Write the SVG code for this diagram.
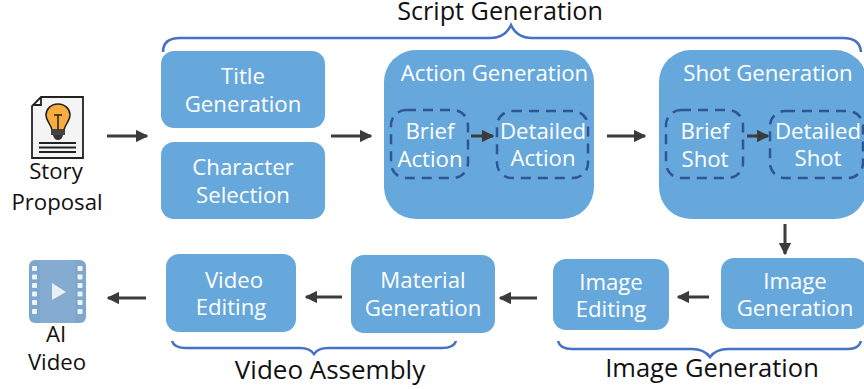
<svg xmlns="http://www.w3.org/2000/svg" width="864" height="389" viewBox="0 0 864 389">
<style>
text{font-family:"Open Sans","Noto Sans","DejaVu Sans",sans-serif;font-size:22.200px;text-anchor:middle}
.w{fill:#fff}
.k{fill:#111}
.box{fill:#66a8db}
.dash{fill:none;stroke:#2f5597;stroke-width:2.500;stroke-dasharray:10 7}
.brace{fill:none;stroke:#4472c4;stroke-width:2.600}
.arr{fill:none;stroke:#3b3b3b;stroke-width:3;marker-end:url(#a)}
.ink{fill:none;stroke:#222;stroke-width:1.800}
</style>
<defs>
<marker id="a" viewBox="0 0 10 10" refX="9" refY="5" markerWidth="4.200" markerHeight="4.200" markerUnits="strokeWidth" orient="auto"><path d="M0 0L10 5L0 10Z" fill="#3b3b3b"/></marker>
</defs>
<rect width="864" height="389" fill="#fff"/>
<g id="braces">
<path class="brace" d="M163 52Q163 38 180 38H490Q505 38 511 25Q517 38 532 38H843Q860 38 861 52"/>
<text class="k" x="500" y="20" style="font-size:25.200px">Script Generation</text>
<path class="brace" d="M172 341Q174 348 186 348H300Q310 348 314 354Q318 348 328 348H442Q454 348 456 341"/>
<text class="k" x="330" y="379" style="font-size:26px">Video Assembly</text>
<path class="brace" d="M558 341Q560 349 572 349H692Q704 349 710 357Q716 349 728 349H848Q859 349 861 341"/>
<text class="k" x="712" y="377" style="font-size:25.500px">Image Generation</text>
</g>
<g id="story-proposal">
<path d="M41 97H83V158H32V106Z" fill="#f4f4f4" stroke="#222" stroke-width="1.800"/>
<path class="ink" d="M33 105H41V97"/>
<path d="M58 104C50 104 46 110 46 115C46 121 51 124 52 130H64C65 124 70 121 70 115C70 110 66 104 58 104Z" fill="#f9ac3e" stroke="#222" stroke-width="1.500"/>
<path d="M54 115H62M58 115V130" fill="none" stroke="#222" stroke-width="1.500"/>
<path d="M51 130H65V135H51Z" fill="#444"/><path d="M53 135H63Q62 140 58 140Q54 140 53 135Z" fill="#333"/>
<path class="ink" d="M39 143H76M39 147.500H76M39 152H76"/>
<text class="k" x="56" y="179">Story</text>
<text class="k" x="57" y="210">Proposal</text>
</g>
<g id="title-generation">
<rect class="box" x="161" y="51" width="164" height="77" rx="13"/>
<text class="w" x="243" y="84">Title</text><text class="w" x="243" y="112">Generation</text>
</g>
<g id="character-selection">
<rect class="box" x="161" y="142" width="164" height="77" rx="13"/>
<text class="w" x="243" y="175">Character</text><text class="w" x="243" y="203">Selection</text>
</g>
<g id="action-generation">
<rect class="box" x="384" y="50" width="210" height="169" rx="32"/>
<text class="w" x="494.500" y="81">Action Generation</text>
</g>
<g id="brief-action">
<rect class="dash" x="391" y="110" width="77" height="68" rx="15"/>
<text class="w" x="430" y="139">Brief</text><text class="w" x="430" y="167">Action</text>
</g>
<g id="detailed-action">
<rect class="dash" x="497" y="111" width="91" height="67" rx="15"/>
<text class="w" x="543" y="139">Detailed</text><text class="w" x="543" y="166">Action</text>
</g>
<g id="shot-generation">
<rect class="box" x="659" y="50" width="208" height="169" rx="32"/>
<text class="w" x="768" y="81">Shot Generation</text>
</g>
<g id="brief-shot">
<rect class="dash" x="666" y="110" width="77" height="68" rx="15"/>
<text class="w" x="705" y="139">Brief</text><text class="w" x="705" y="167">Shot</text>
</g>
<g id="detailed-shot">
<rect class="dash" x="770" y="111" width="93" height="67" rx="15"/>
<text class="w" x="818" y="139">Detailed</text><text class="w" x="818" y="166">Shot</text>
</g>
<g id="image-generation">
<rect class="box" x="721" y="258" width="146" height="71" rx="13"/>
<text class="w" x="795" y="289">Image</text><text class="w" x="795" y="316">Generation</text>
</g>
<g id="image-editing">
<rect class="box" x="553" y="259" width="116" height="71" rx="13"/>
<text class="w" x="611" y="290">Image</text><text class="w" x="611" y="317">Editing</text>
</g>
<g id="material-generation">
<rect class="box" x="351" y="255" width="144" height="78" rx="13"/>
<text class="w" x="423" y="288">Material</text><text class="w" x="423" y="316">Generation</text>
</g>
<g id="video-editing">
<rect class="box" x="166" y="254" width="130" height="78" rx="13"/>
<text class="w" x="234" y="288">Video</text><text class="w" x="231" y="315">Editing</text>
</g>
<g id="ai-video">
<rect x="29" y="260" width="57" height="63" rx="6" fill="#7da7cc"/>
<rect x="40" y="260" width="35" height="63" fill="#85abd0"/>
<path d="M52 283L66 292L52 300Z" fill="#e8eff6"/>
<g fill="#eef3f8">
<rect x="32" y="266" width="5" height="5" rx="1"/><rect x="32" y="274.500" width="5" height="5" rx="1"/><rect x="32" y="283" width="5" height="5" rx="1"/><rect x="32" y="291.500" width="5" height="5" rx="1"/><rect x="32" y="300" width="5" height="5" rx="1"/><rect x="32" y="309" width="5" height="5" rx="1"/>
<rect x="77.500" y="266" width="5" height="5" rx="1"/><rect x="77.500" y="274.500" width="5" height="5" rx="1"/><rect x="77.500" y="283" width="5" height="5" rx="1"/><rect x="77.500" y="291.500" width="5" height="5" rx="1"/><rect x="77.500" y="300" width="5" height="5" rx="1"/><rect x="77.500" y="309" width="5" height="5" rx="1"/>
</g>
<text class="k" x="56" y="342">AI</text><text class="k" x="57" y="370">Video</text>
</g>
<g id="connectors">
<path class="arr" d="M107 136H147"/>
<path class="arr" d="M331 136H371"/>
<path class="arr" d="M471 136H493"/>
<path class="arr" d="M607 136H645"/>
<path class="arr" d="M747 136H768"/>
<path class="arr" d="M785 224V254"/>
<path class="arr" d="M709 297H678"/>
<path class="arr" d="M537 298H500"/>
<path class="arr" d="M342 297H306"/>
<path class="arr" d="M146 298H108"/>
</g>
</svg>
